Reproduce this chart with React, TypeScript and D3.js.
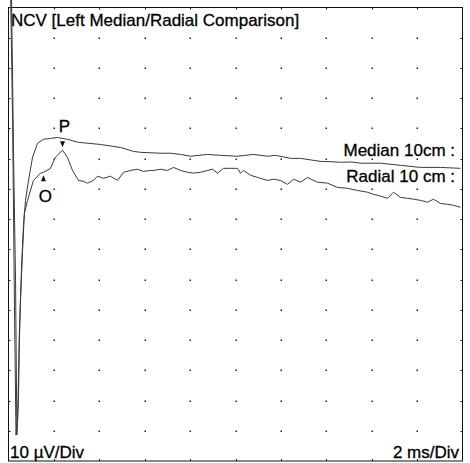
import React, { useEffect, useRef } from 'react';
import * as d3 from 'd3';

// time in ms, amplitude in µV
const medianTrace: [number, number][] = [
  [0.09, 55.6], [0.18, 12.7], [0.26, -46.8], [0.33, -91.4], [0.4, -86.5], [0.48, -56.7],
  [0.57, -36.9], [0.66, -22.0], [0.75, -13.8], [0.88, -7.2], [1.06, 0.5], [1.28, 5.1],
  [1.54, 6.4], [1.85, 6.7], [2.16, 7.0], [2.6, 6.4], [3.08, 5.4], [4.05, 4.7], [4.93, 3.7],
  [5.51, 2.4], [5.81, 2.1], [6.7, 1.8], [7.14, 1.8], [7.58, 1.4], [8.02, 0.8], [8.77, 1.4],
  [9.34, 1.1], [10.09, 0.8], [10.79, 1.4], [11.41, 0.8], [11.76, 1.1], [12.42, 0.1],
  [12.86, 0.1], [13.74, -0.9], [14.2, -1.0], [14.63, -1.2], [15.1, -1.1], [15.51, -1.5],
  [16.39, -1.5], [17.27, -2.2], [18.15, -2.9], [19.03, -2.9], [19.91, -3.2],
];

const radialTrace: [number, number][] = [
  [0.13, 55.6], [0.22, 2.8], [0.31, -40.2], [0.37, -91.4], [0.44, -79.8], [0.48, -60.0],
  [0.53, -46.8], [0.62, -30.3], [0.7, -18.1], [0.84, -13.8], [1.1, -7.2], [1.41, -4.8],
  [1.54, -4.5], [1.85, -3.2], [2.07, 0.5], [2.38, 2.8], [2.6, 0.4], [2.82, -3.9], [3.08, -7.2],
  [3.3, -7.5], [3.48, -8.1], [3.74, -7.2], [3.92, -5.8], [4.19, -6.5], [4.49, -5.8],
  [4.8, -7.2], [5.07, -4.5], [5.37, -3.9], [5.68, -3.5], [5.95, -4.2], [6.26, -3.9],
  [6.39, -3.9], [6.7, -3.5], [7.0, -3.9], [7.27, -2.9], [7.58, -3.9], [7.89, -4.5],
  [8.15, -4.8], [8.46, -4.5], [8.77, -3.9], [8.99, -3.5], [9.21, -4.8], [9.47, -3.2],
  [9.78, -3.2], [10.09, -3.2], [10.22, -4.8], [10.35, -3.9], [10.66, -5.5], [10.97, -6.2],
  [11.41, -7.2], [11.67, -6.8], [11.98, -7.2], [12.29, -8.5], [12.56, -6.8], [12.86, -7.8],
  [13.17, -6.2], [13.61, -7.8], [14.05, -8.1], [14.49, -9.5], [14.93, -9.8], [15.37, -10.5],
  [15.81, -11.1], [16.08, -11.8], [16.39, -12.4], [16.7, -13.1], [16.96, -11.1],
  [17.27, -12.8], [17.58, -13.1], [17.84, -13.4], [18.15, -13.8], [18.46, -14.4],
  [18.72, -13.4], [19.03, -14.8], [19.34, -15.1], [19.6, -15.4], [19.91, -16.1],
];

const traceLabels = ['Median 10cm :', 'Radial 10 cm :'];

const markers = [
  { label: 'P', t: 2.38, v: 2.8, dir: 'down' },
  { label: 'O', t: 1.54, v: -4.5, dir: 'up' },
];

const title = 'NCV [Left Median/Radial Comparison]';
const yUnit = '10 µV/Div';
const xUnit = '2 ms/Div';

const W = 470;
const H = 463;
const FONT = '"Liberation Sans", Arial, sans-serif';

const App = () => {
  const svgRef = useRef<SVGSVGElement>(null);

  useEffect(() => {
    const svg = d3.select(svgRef.current);
    svg.selectAll('*').remove();

    const left = 8.5, right = 462.5, top = 7.5, bottom = 461;
    const x = d3.scaleLinear().domain([0, 20]).range([left, right]);
    const y = d3.scaleLinear().domain([50, -100]).range([top, bottom]);

    svg.append('rect').attr('width', W).attr('height', H).attr('fill', '#fff');

    // dotted grid
    const xt = d3.range(2, 20, 2);
    const yt = d3.range(-90, 50, 10);
    const dots = xt.flatMap(t => yt.map(v => [t, v]));
    svg.append('g')
      .selectAll('rect')
      .data(dots)
      .join('rect')
      .attr('x', d => Math.round(x(d[0])) - 0.5)
      .attr('y', d => Math.round(y(d[1])) - 0.5)
      .attr('width', 1.5)
      .attr('height', 1.5)
      .attr('fill', '#222');

    // border ticks
    const ticks = svg.append('g').attr('stroke', '#111').attr('stroke-width', 1);
    xt.forEach(t => {
      const px = Math.round(x(t)) + 0.5;
      ticks.append('line').attr('x1', px).attr('x2', px).attr('y1', top).attr('y2', top + 2);
      ticks.append('line').attr('x1', px).attr('x2', px).attr('y1', bottom - 2).attr('y2', bottom);
    });
    yt.forEach(v => {
      const py = Math.round(y(v)) + 0.5;
      ticks.append('line').attr('x1', left).attr('x2', left + 2).attr('y1', py).attr('y2', py);
      ticks.append('line').attr('x1', right - 2).attr('x2', right).attr('y1', py).attr('y2', py);
    });

    // frame
    svg.append('rect')
      .attr('x', left).attr('y', top)
      .attr('width', right - left).attr('height', bottom - top)
      .attr('fill', 'none').attr('stroke', '#111').attr('stroke-width', 1);

    const line = d3.line<[number, number]>()
      .x(d => x(d[0]))
      .y(d => y(d[1]));

    [medianTrace, radialTrace].forEach(tr => {
      svg.append('path')
        .datum(tr)
        .attr('d', line)
        .attr('fill', 'none')
        .attr('stroke', '#3a3a3a')
        .attr('stroke-width', 1);
    });

    const addText = (tx: number, ty: number, s: string, anchor = 'start') =>
      svg.append('text')
        .attr('x', tx).attr('y', ty)
        .attr('text-anchor', anchor)
        .attr('font-family', FONT).attr('font-size', 17)
        .attr('fill', '#000')
        .attr('stroke', '#000').attr('stroke-width', 0.3)
        .text(s);

    // trace labels
    addText(455, 156, traceLabels[0], 'end');
    addText(455, 182, traceLabels[1], 'end');

    // P / O markers
    markers.forEach(m => {
      const px = x(m.t);
      const py = y(m.v);
      if (m.dir === 'down') {
        svg.append('path')
          .attr('d', `M${px - 2.5},${py - 9}L${px + 2.5},${py - 9}L${px},${py - 3}Z`)
          .attr('fill', '#111');
        addText(px + 2, py - 18, m.label, 'middle');
      } else {
        svg.append('path')
          .attr('d', `M${px - 2.5},${py + 9}L${px + 2.5},${py + 9}L${px},${py + 3}Z`)
          .attr('fill', '#111');
        addText(px + 2, py + 30, m.label, 'middle');
      }
    });

    addText(11, 25.5, title);
    addText(10, 458, yUnit);
    addText(459, 458, xUnit, 'end');
  }, []);

  return (
    <svg
      ref={svgRef}
      width={W}
      height={H}
      style={{ position: 'absolute', left: 0, top: 0, display: 'block' }}
    />
  );
};

export default App;
